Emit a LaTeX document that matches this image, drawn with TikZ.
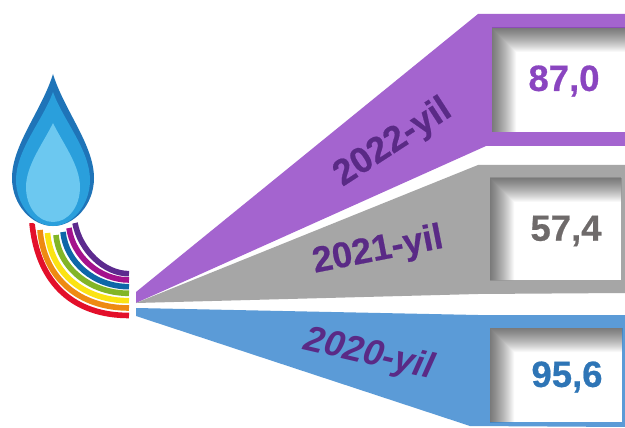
\documentclass[tikz,border=0pt]{standalone}
\usepackage{fontspec}
\setmainfont{Liberation Sans}[BoldFeatures={FakeBold=0.6}]
\definecolor{cpurple}{HTML}{A464CF}
\definecolor{cgrey}{HTML}{A6A6A6}
\definecolor{cblue}{HTML}{5B9BD7}
\definecolor{tpurple}{HTML}{8A45C0}
\definecolor{tgrey}{HTML}{6E6A6A}
\definecolor{tblue}{HTML}{2E75B6}
\definecolor{tyear}{HTML}{5A2A86}
\definecolor{flameA}{HTML}{1F74B8}
\definecolor{flameB}{HTML}{2A9FDC}
\definecolor{flameC}{HTML}{6CC8F0}
\tikzset{
  val/.style={font=\fontsize{36.5}{40}\selectfont\bfseries},
  yearlabel/.style={text=tyear,font=\fontsize{#1}{40}\selectfont\bfseries},
  band/.style={line width=5.6pt,line cap=butt}
}
\newcommand{\innerbox}[4]{% x1,y1,x2,y2
  \fill[white] (#1,#2) rectangle (#3,#4);
  \foreach \s in {1,...,24}{
    \fill[black,fill opacity=0.028] (#1,#2) -- (#3,#2) -- (#3,#2+\s) -- (#1+\s,#2+\s) -- (#1+\s,#4) -- (#1,#4) -- cycle;
  }
}
\begin{document}
\begin{tikzpicture}[x=1pt,y=-1pt]
\useasboundingbox (0,0) rectangle (625,428);
\fill[white] (0,0) rectangle (625,428);
% wedges
\fill[cpurple] (136,303) -- (136,292) -- (478,14) -- (625,14) -- (625,146) -- (486,146) -- cycle;
\fill[cgrey] (136,303) -- (478,165) -- (625,165) -- (625,293) -- (478,294) -- cycle;
\fill[cblue] (136,308) -- (478,315) -- (625,315) -- (625,427) -- (470,426) -- (136,316) -- cycle;
% inner boxes
\innerbox{492}{28}{625}{132}
\innerbox{490}{178}{621}{280}
\innerbox{490}{328}{622}{422}
% rainbow
\foreach \col/\sx/\sy/\ax/\ay/\bx/\ey in {
  E30F2A/32/223/38/285/75/315.5,
  EE8A12/40/230/44/279/80/308,
  FBE313/47.5/233/51/273/84/300.7,
  82B526/56/235/59/267.5/89.5/293.3,
  0E67A8/63/232/66/262/94/286.7,
  A4128C/69/228/73/256/99/280,
  5C2A8E/75/223/80/250/104/273.7}{
  \definecolor{bandc}{HTML}{\col}
  \draw[band,bandc] (\sx,\sy) .. controls (\ax,\ay) and (\bx,\ey) .. (129,\ey);
}
% flame
\fill[white] (53,74) .. controls (66,112) and (96,145) .. (96,178) .. controls (96,207) and (75,229) .. (53,229) .. controls (31,229) and (10,207) .. (10,178) .. controls (10,145) and (40,112) .. (53,74) -- cycle;
\fill[flameA] (53,74) .. controls (64,110) and (94,145) .. (94,178) .. controls (94,205) and (74,226) .. (53,226) .. controls (32,226) and (12,205) .. (12,178) .. controls (12,145) and (42,110) .. (53,74) -- cycle;
\fill[flameB] (53,92) .. controls (63,120) and (90,150) .. (90,180) .. controls (90,205) and (72,226) .. (53,226) .. controls (34,226) and (16,205) .. (16,180) .. controls (16,150) and (43,120) .. (53,92) -- cycle;
\fill[flameC] (53,123) .. controls (62,142) and (80,165) .. (80,187) .. controls (80,207) and (68,222) .. (53,222) .. controls (38,222) and (26,207) .. (26,187) .. controls (26,165) and (44,142) .. (53,123) -- cycle;
% labels
\node[val,text=tpurple] (v22) at (564,81) {87,0};
\node[val,text=tgrey] (v21) at (566,231) {57,4};
\node[val,text=tblue] (v20) at (567,377) {95,6};
\node[yearlabel=36,rotate=33] (y22) at (393,143) {2022-yil};
\node[yearlabel=36,rotate=11] (y21) at (378,251) {2021-yil};
\node[rotate=-13,text=tyear,font=\fontsize{36}{40}\selectfont\bfseries\itshape] (y20) at (369,355) {2020-yil};
\end{tikzpicture}
\end{document}
